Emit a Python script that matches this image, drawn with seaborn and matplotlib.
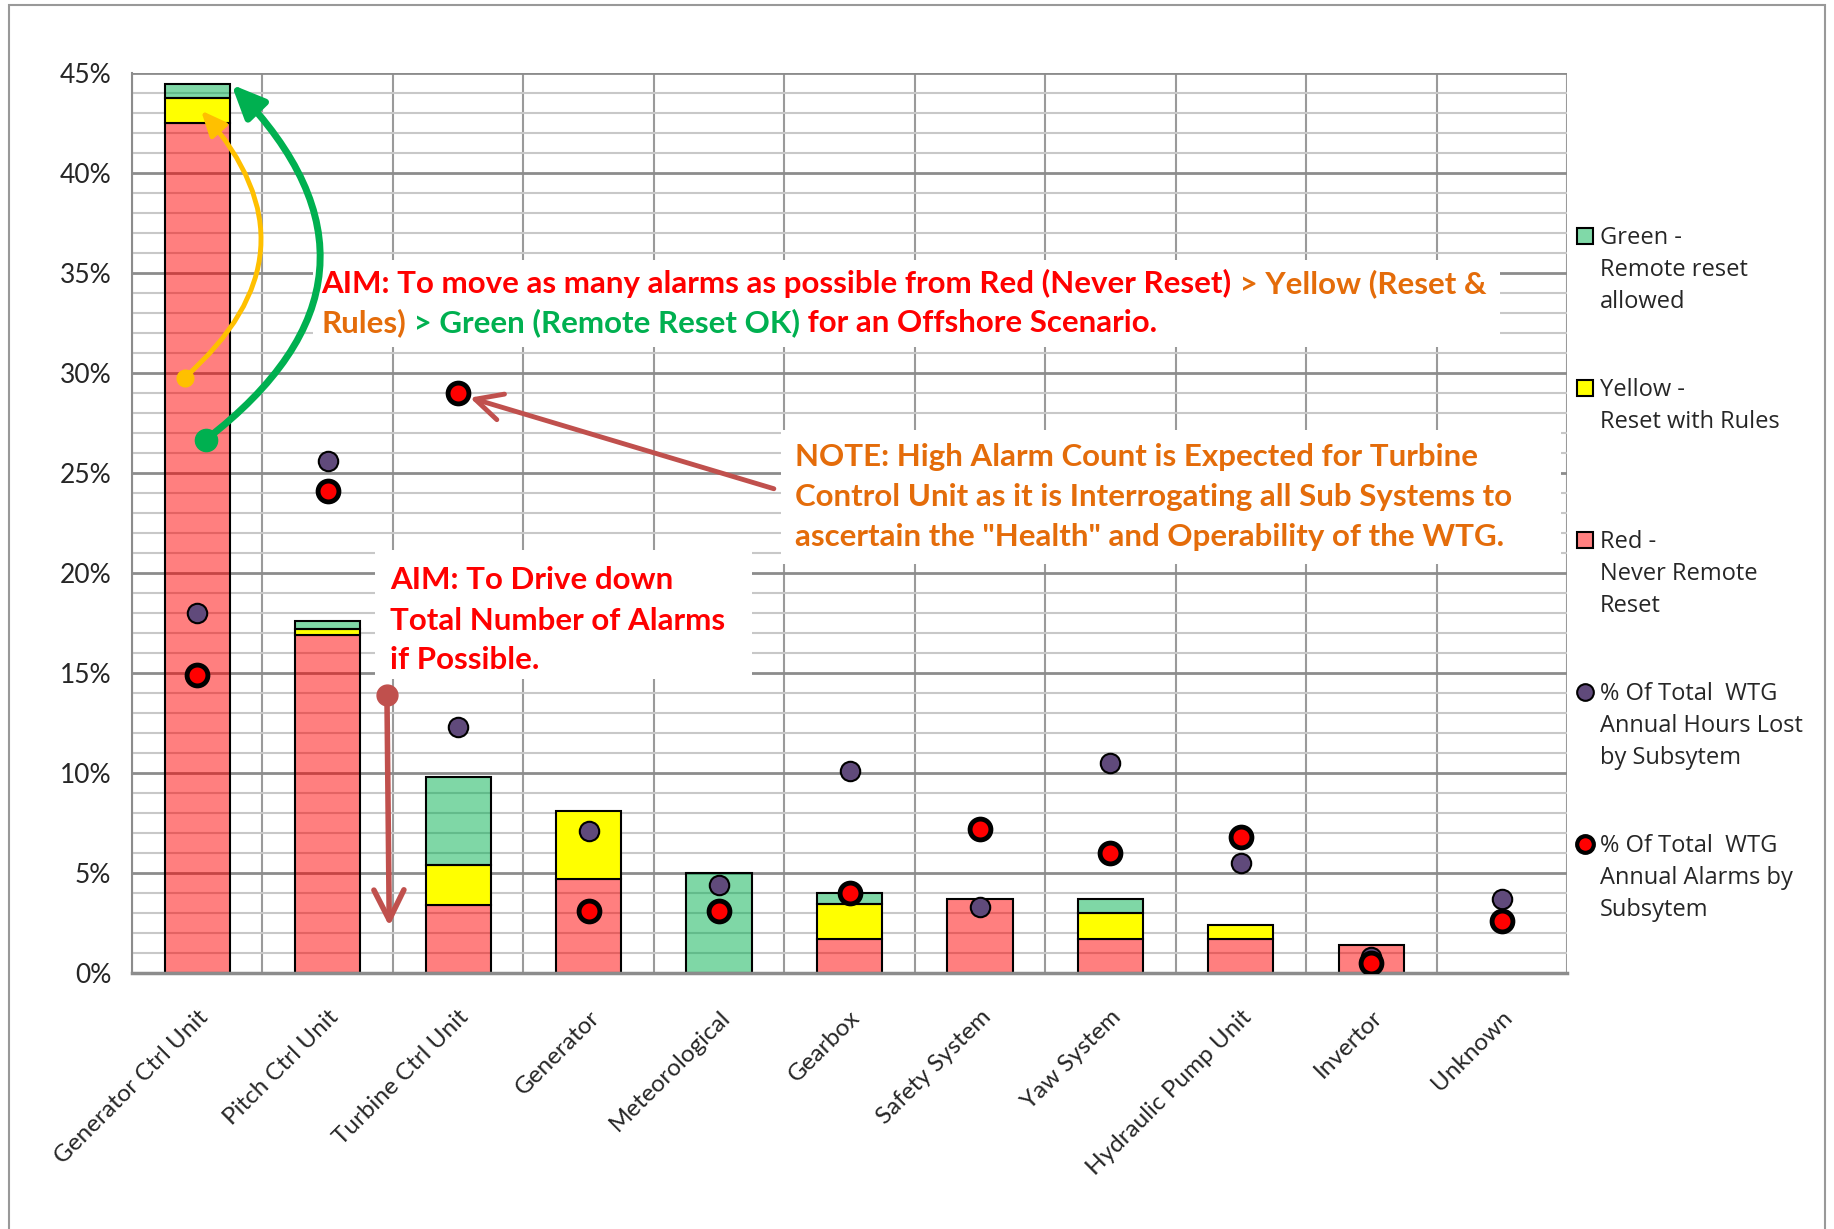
import numpy as np
import pandas as pd
import seaborn as sns
import matplotlib.pyplot as plt
from matplotlib.patches import Rectangle, FancyArrowPatch
from matplotlib.lines import Line2D

# data (percent of total)
subsystems = ['Generator Ctrl Unit', 'Pitch Ctrl Unit', 'Turbine Ctrl Unit', 'Generator',
              'Meteorological', 'Gearbox', 'Safety System', 'Yaw System',
              'Hydraulic Pump Unit', 'Invertor', 'Unknown']
red_never = [42.5, 16.9, 3.4, 4.7, 0.0, 1.7, 3.7, 1.7, 1.7, 1.4, 0.0]
yellow_rules = [1.25, 0.3, 2.0, 3.4, 0.0, 1.75, 0.0, 1.3, 0.7, 0.0, 0.0]
green_remote = [0.7, 0.4, 4.4, 0.0, 5.0, 0.55, 0.0, 0.7, 0.0, 0.0, 0.0]
hours_lost = [18.0, 25.6, 12.3, 7.1, 4.4, 10.1, 3.3, 10.5, 5.5, 0.8, 3.7]
alarms = [14.9, 24.1, 29.0, 3.1, 3.1, 4.0, 7.2, 6.0, 6.8, 0.5, 2.6]
y_ticks = [0, 5, 10, 15, 20, 25, 30, 35, 40, 45]

legend_labels = ['Green -\nRemote reset\nallowed',
                 'Yellow -\nReset with Rules',
                 'Red -\nNever Remote\nReset',
                 '% Of Total  WTG\nAnnual Hours Lost\nby Subsytem',
                 '% Of Total  WTG\nAnnual Alarms by\nSubsytem']

RED = '#FF0000'
ORANGE = '#E46C0A'
GREEN = '#00B050'
BROWN = '#C0504D'

sns.set_style('white')
plt.rcParams['font.family'] = ['Lato', 'DejaVu Sans']

df = pd.DataFrame({'subsystem': subsystems, 'red': red_never, 'yellow': yellow_rules,
                   'green': green_remote, 'hours': hours_lost, 'alarms': alarms})
bottom_yellow = df['red'].to_numpy()
bottom_green = bottom_yellow + df['yellow'].to_numpy()

fig = plt.figure(figsize=(18.34, 12.29), dpi=100)
ax = fig.add_axes([0.072, 0.2083, 0.7824, 0.7327])

# stacked bars
sns.barplot(data=df, x='subsystem', y='red', order=subsystems, width=0.5, errorbar=None,
            color='#FF8080', facecolor=(1, 0, 0, 0.5), edgecolor='black', linewidth=1.5,
            zorder=2, ax=ax)
sns.barplot(data=df, x='subsystem', y='yellow', order=subsystems, width=0.5, errorbar=None,
            bottom=bottom_yellow, color='#FFFF00', facecolor='#FFFF00', edgecolor='black',
            linewidth=1.5, zorder=2, ax=ax)
sns.barplot(data=df, x='subsystem', y='green', order=subsystems, width=0.5, errorbar=None,
            bottom=bottom_green, color='#80D8A8', facecolor=(0, 0.69, 0.31, 0.5),
            edgecolor='black', linewidth=1.5, zorder=2, ax=ax)
for p in ax.patches:
    if p.get_height() == 0:
        p.set_visible(False)

# dots
sns.stripplot(data=df, x='subsystem', y='hours', order=subsystems, jitter=False,
              color='#604A7B', size=14, edgecolor='black', linewidth=1.5, zorder=5, ax=ax)
sns.stripplot(data=df, x='subsystem', y='alarms', order=subsystems, jitter=False,
              color=RED, size=15, edgecolor='black', linewidth=3.5, zorder=5, ax=ax)

ax.set_xlim(-0.5, len(subsystems) - 0.5)
ax.set_ylim(0, 45)
ax.set_xlabel('')
ax.set_ylabel('')
ax.set_yticks(y_ticks)
ax.set_yticks(np.arange(0, 46, 1), minor=True)
ax.set_yticklabels([f'{t}%' for t in y_ticks], fontsize=19)
ax.set_xticks(np.arange(len(subsystems) + 1) - 0.5, minor=True)
ax.set_xticks(range(len(subsystems)))
ax.set_xticklabels(subsystems, fontsize=17.5, rotation=45, ha='right', va='top',
                   rotation_mode='anchor')

ax.grid(True, which='minor', axis='y', color='#c8c8c8', lw=1.5)
ax.grid(True, which='major', axis='y', color='#8c8c8c', lw=2)
ax.grid(True, which='minor', axis='x', color='#9a9a9a', lw=1.5)
ax.set_axisbelow(True)

ax.tick_params(axis='y', which='major', length=7, width=1.5, color='#8c8c8c', pad=8)
ax.tick_params(axis='y', which='minor', length=0)
ax.tick_params(axis='x', which='major', length=0, pad=24)
ax.tick_params(axis='x', which='minor', length=8, width=1.5, color='#9a9a9a')
for side in ['top', 'right']:
    ax.spines[side].set_visible(False)
ax.spines['left'].set_color('#8c8c8c')
ax.spines['left'].set_linewidth(1.5)
ax.spines['bottom'].set_color('#8c8c8c')
ax.spines['bottom'].set_linewidth(2.5)

# white boxes behind the notes
for x0, y0, x1, y1 in [(0.126, 0.695, 0.953, 0.792),
                       (0.452, 0.4545, 0.996, 0.6026),
                       (0.169, 0.327, 0.432, 0.470)]:
    ax.add_patch(Rectangle((x0, y0), x1 - x0, y1 - y0, transform=ax.transAxes,
                           facecolor='white', edgecolor='none', zorder=3))


def colored_line(x, y, pieces, size=22.5):
    prev = ax.text(x, y, pieces[0][0], color=pieces[0][1], transform=ax.transAxes,
                   fontsize=size, fontweight='bold', va='center', ha='left', zorder=6)
    for txt, col in pieces[1:]:
        prev = ax.annotate(txt, xy=(1, 0), xycoords=prev, va='bottom', ha='left',
                           color=col, fontsize=size, fontweight='bold', zorder=6)


colored_line(0.132, 0.766, [('AIM: To move as many alarms as possible from Red (Never Reset)', RED),
                            (' > Yellow (Reset &', ORANGE)])
colored_line(0.132, 0.722, [('Rules)', ORANGE), (' > Green (Remote Reset OK)', GREEN),
                            (' for an Offshore Scenario.', RED)])

note_lines = ['NOTE: High Alarm Count is Expected for Turbine',
              'Control Unit as it is Interrogating all Sub Systems to',
              'ascertain the "Health" and Operability of the WTG.']
for txt, y in zip(note_lines, [0.5727, 0.5286, 0.4844]):
    colored_line(0.462, y, [(txt, ORANGE)])

aim_lines = ['AIM: To Drive down', 'Total Number of Alarms', 'if Possible.']
for txt, y in zip(aim_lines, [0.4364, 0.391, 0.348]):
    colored_line(0.180, y, [(txt, RED)])

# arrows
ax.add_patch(FancyArrowPatch((-0.097, 29.75), (0.029, 43.1), connectionstyle='arc3,rad=0.5',
                             arrowstyle='-|>,head_length=0.5,head_width=0.22', mutation_scale=30,
                             color='#FFC000', lw=3.5, shrinkA=0, shrinkB=0, zorder=7))
ax.plot([-0.097], [29.75], marker='o', ms=12, color='#FFC000', zorder=7)
ax.add_patch(FancyArrowPatch((0.065, 26.65), (0.262, 44.4), connectionstyle='arc3,rad=0.56',
                             arrowstyle='-|>,head_length=0.5,head_width=0.22', mutation_scale=40,
                             color=GREEN, lw=5, shrinkA=0, shrinkB=0, zorder=7))
ax.plot([0.065], [26.65], marker='o', ms=16, color=GREEN, zorder=7)
ax.add_patch(FancyArrowPatch((4.42, 24.2), (2.09, 28.75),
                             arrowstyle='->,head_length=0.6,head_width=0.3', mutation_scale=32,
                             color=BROWN, lw=3.5, shrinkA=0, shrinkB=0, zorder=7))
ax.add_patch(FancyArrowPatch((1.454, 13.9), (1.472, 2.34),
                             arrowstyle='->,head_length=0.6,head_width=0.3', mutation_scale=36,
                             color=BROWN, lw=4, shrinkA=0, shrinkB=0, zorder=7))
ax.plot([1.454], [13.9], marker='o', ms=15, color=BROWN, zorder=7)

# legend drawn at the right
legend_handles = [dict(marker='s', ms=11, mfc=(0.5, 0.85, 0.66), mec='black', mew=1.5),
                  dict(marker='s', ms=11, mfc='#FFFF00', mec='black', mew=1.5),
                  dict(marker='s', ms=11, mfc='#FF8080', mec='black', mew=1.5),
                  dict(marker='o', ms=12, mfc='#604A7B', mec='black', mew=1.5),
                  dict(marker='o', ms=12, mfc=RED, mec='black', mew=3)]
for i, (lab, hk) in enumerate(zip(legend_labels, legend_handles)):
    yc = 0.808 - i * 0.1237
    fig.add_artist(Line2D([0.8642], [yc], transform=fig.transFigure, linestyle='none', **hk))
    fig.text(0.8724, yc + 0.008, lab, fontsize=17, family=['Open Sans', 'DejaVu Sans'],
             va='top', ha='left', linespacing=1.45)

fig.add_artist(Rectangle((0.005, -0.01), 0.990, 1.006, transform=fig.transFigure,
                         fill=False, edgecolor='#999999', lw=1.5))

fig.savefig('out.png', dpi=100)
